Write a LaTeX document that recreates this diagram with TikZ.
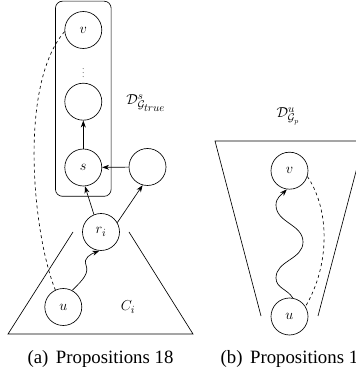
\documentclass[tikz,border=0pt]{standalone}
\usepackage{fontspec}
\setmainfont{Liberation Serif}
\usetikzlibrary{arrows.meta,fit}
\begin{document}
\begin{tikzpicture}[x=1pt,y=1pt,line width=0.65pt,
  vert/.style={circle,draw,minimum size=37pt,inner sep=0pt,font=\fontsize{15}{17}\selectfont},
  arr/.style={-{Stealth[length=7pt,width=5pt]}},
  lbl/.style={font=\fontsize{15}{17}\selectfont},
  captext/.style={font=\fontsize{18.8}{22}\selectfont}]
\useasboundingbox (0,0) rectangle (356,375);
\clip (0,0) rectangle (356,375);
% left panel
\node[vert] (v) at (83.3,345) {$v$};
\node[vert] (w) at (83.3,273.3) {};
\node[vert] (s) at (83.3,207.5) {$s$};
\node[vert] (t) at (147.5,208) {};
\node[vert] (r) at (101,143) {$r_i$};
\node[vert] (u) at (63.3,68) {$u$};
\node[font=\fontsize{10}{12}\selectfont,text=gray,inner sep=0pt] (dots) at (83.3,305) {$\vdots$};
\node[draw,rounded corners=7pt,inner xsep=9pt,inner ysep=10pt,fit=(v)(s)] (box) {};
\draw (73,143) -- (8,41) -- (193,41) -- (129,143);
\node[lbl] (ci) at (128,68) {$C_i$};
\node[lbl] (ds) at (146,272) {$\mathcal{D}^{s}_{\mathcal{G}_{\scriptstyle true}}$};
\node[captext,anchor=base] (capa) at (100.5,12) {(a)\hspace{0.4em}Propositions 18};
\draw[arr] (t) -- (s);
\draw[arr] (s) -- (w);
\draw[arr] (r.112) -- (s.275);
\draw[arr] (r.30) -- (t.255);
\draw[arr] (u.62) .. controls (84,96) and (89,102) .. (86,110) .. controls (83,117) and (91,121) .. (r.265);
\draw[dashed] (v.185) .. controls (18,290) and (33,140) .. (u.115);
% right panel
\node[lbl] (du) at (288,259) {$\mathcal{D}^{u}_{\mathcal{G}_{p}}$};
\draw (261,59) -- (215,234) -- (364,234) -- (318,59);
\node[vert] (v2) at (289.5,204.3) {$v$};
\node[vert] (u2) at (289.5,58.5) {$u$};
\node[captext,anchor=base west] (capb) at (217,12) {(b)\hspace{0.4em}Propositions 19};
\draw[arr] (u2.80) to[out=120,in=-90] (276,97) to[out=90,in=-90] (303,133) to[out=90,in=-90] (276,170) to[out=90,in=225] (v2.262);
\draw[dashed] (v2.-18) .. controls (330,165) and (330,110) .. (u2.32);
\end{tikzpicture}
\end{document}
